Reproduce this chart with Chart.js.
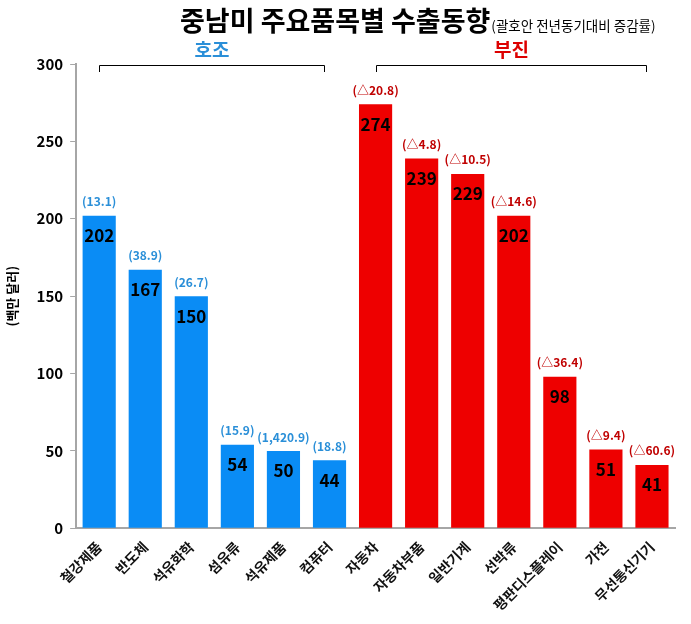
<!DOCTYPE html>
<html>
<head>
<meta charset="utf-8">
<script src="https://cdn.jsdelivr.net/npm/chart.js@4"></script>
<style>
  body { margin: 0; background: #fff; }
  #wrap { width: 691px; height: 624px; position: relative; }
</style>
</head>
<body>
<div id="wrap"><canvas id="myChart"></canvas></div>
<script>
const categories = ['철강제품','반도체','석유화학','섬유류','석유제품','컴퓨터','자동차','자동차부품','일반기계','선박류','평판디스플레이','가전','무선통신기기']
const values = [202,167,150,54,50,44,274,239,229,202,98,51,41]
const changes = ['(13.1)','(38.9)','(26.7)','(15.9)','(1,420.9)','(18.8)','(△20.8)','(△4.8)','(△10.5)','(△14.6)','(△36.4)','(△9.4)','(△60.6)']
const goodCount = 6
const yTicks = [0,50,100,150,200,250,300]

const KR = '"Noto Sans CJK KR", sans-serif'
const blue = '#0a8cf5'
const red = '#ee0000'

const barColors = values.map((v, i) => i < goodCount ? blue : red)

// labels, brackets, title
const extras = {
  id: 'extras',
  afterDatasetsDraw(chart) {
    const c = chart.ctx
    const meta = chart.getDatasetMeta(0)
    const x = chart.scales.x
    c.save()
    c.textAlign = 'center'
    c.textBaseline = 'middle'
    meta.data.forEach((bar, i) => {
      c.fillStyle = '#000'
      c.font = 'bold 17px ' + KR
      c.fillText(values[i], bar.x, bar.y + 20)
      c.fillStyle = i < goodCount ? '#2a8fd8' : '#c00000'
      c.font = 'bold 12px ' + KR
      c.fillText(changes[i], bar.x, bar.y - 14)
    })
    // brackets
    const by = 65
    c.strokeStyle = '#000'
    c.lineWidth = 1
    const groups = [[0, goodCount - 1, '호조', '#2a8fd8'], [goodCount, categories.length - 1, '부진', '#dd0000']]
    groups.forEach(g => {
      const x1 = Math.round(x.getPixelForValue(g[0])) + 0.5
      const x2 = Math.round(x.getPixelForValue(g[1]) - 6) + 0.5
      c.beginPath()
      c.moveTo(x1, by + 7)
      c.lineTo(x1, by + 0.5)
      c.lineTo(x2, by + 0.5)
      c.lineTo(x2, by + 7)
      c.stroke()
      c.fillStyle = g[3]
      c.font = 'bold 19px ' + KR
      c.fillText(g[2], (x1 + x2) / 2, 50)
    })
    // title
    c.fillStyle = '#000'
    c.textAlign = 'left'
    c.textBaseline = 'alphabetic'
    const t1 = '중남미 주요품목별 수출동향'
    const t2 = '(괄호안 전년동기대비 증감률)'
    c.font = 'bold 27px ' + KR
    const w1 = c.measureText(t1).width
    const sx = 180
    c.fillText(t1, sx, 31)
    c.font = '13.5px ' + KR
    c.fillText(t2, sx + w1 + 1, 31)
    c.restore()
  }
}

const ctx = document.getElementById('myChart')
const myChart = new Chart(ctx, {
  type: 'bar',
  data: {
    labels: categories,
    datasets: [{
      data: values,
      backgroundColor: barColors,
      barPercentage: 0.72,
      categoryPercentage: 1
    }]
  },
  options: {
    responsive: true,
    maintainAspectRatio: false,
    animation: false,
    layout: { padding: { top: 64, right: 16, left: 0, bottom: 0 } },
    plugins: {
      legend: { display: false },
      tooltip: { enabled: false }
    },
    scales: {
      x: {
        grid: { display: false, drawTicks: false },
        border: { color: '#a6a6a6', width: 2 },
        ticks: {
          minRotation: 45,
          maxRotation: 45,
          padding: 10,
          color: '#111',
          font: { family: KR, size: 14, weight: 'bold' }
        }
      },
      y: {
        min: 0,
        max: 300,
        afterBuildTicks: axis => { axis.ticks = yTicks.map(v => ({ value: v })) },
        grid: { drawOnChartArea: false, tickLength: 6, color: '#a6a6a6' },
        border: { color: '#a6a6a6', width: 2 },
        title: {
          display: true,
          text: '(백만 달러)',
          color: '#000',
          font: { family: KR, size: 13, weight: 'bold' },
          padding: { top: 4, bottom: 10 }
        },
        ticks: {
          color: '#000',
          padding: 7,
          font: { family: KR, size: 15, weight: 'bold' }
        }
      }
    }
  },
  plugins: [extras]
})
</script>
</body>
</html>
